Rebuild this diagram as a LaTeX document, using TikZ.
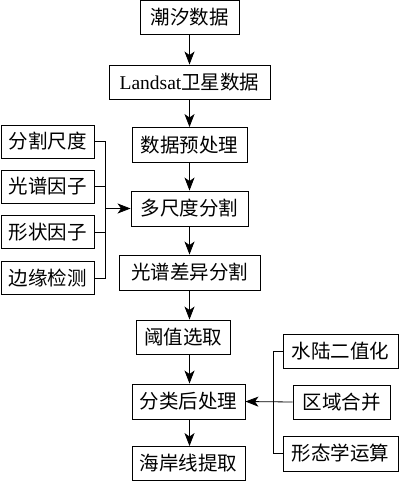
\documentclass[tikz,border=0pt]{standalone}
\usepackage{fontspec}
\setmainfont{Liberation Serif}
\newfontfamily\cjk{Noto Sans CJK SC}
\usepackage{tikz}
\usetikzlibrary{arrows.meta}

\begin{document}
\begin{tikzpicture}[x=1bp, y=-1bp,
        procbox/.style={draw, line width=0.9bp, inner sep=0, minimum height=34bp, font=\fontsize{19.5bp}{22bp}\selectfont\cjk},
        flow/.style={line width=0.8bp, -{Stealth[length=13bp, width=10bp, inset=3.5bp]}}]
                \useasboundingbox (0,0) rectangle (400,481);

                % main column
                \node[procbox, minimum width=99bp](tide) at (189.5,17.5) {潮汐数据};
                \node[procbox, minimum width=161bp](landsat) at (189.5,82) {{\rmfamily Landsat}卫星数据};
                \node[procbox, minimum width=115bp, minimum height=35bp](preproc) at (189.5,145) {数据预处理};
                \node[procbox, minimum width=117bp, minimum height=35bp](mrseg) at (189.5,208.5) {多尺度分割};
                \node[procbox, minimum width=141bp, minimum height=35bp](specseg) at (189.5,272.5) {光谱差异分割};
                \node[procbox, minimum width=94bp](thresh) at (183,337) {阈值选取};
                \node[procbox, minimum width=113bp, minimum height=35bp](postproc) at (188.5,401.5) {分类后处理};
                \node[procbox, minimum width=113bp](coast) at (188.5,463.5) {海岸线提取};

                % segmentation parameters
                \node[procbox, minimum width=93bp, minimum height=33bp](segscale) at (47.5,141.5) {分割尺度};
                \node[procbox, minimum width=93bp, minimum height=33bp](specfac) at (47.5,186.5) {光谱因子};
                \node[procbox, minimum width=93bp, minimum height=33bp](shapefac) at (47.5,232) {形状因子};
                \node[procbox, minimum width=93bp, minimum height=33bp](edgedet) at (47.5,278) {边缘检测};

                % post-processing steps
                \node[procbox, minimum width=115bp](binar) at (340.5,351) {水陆二值化};
                \node[procbox, minimum width=97bp](merge) at (341.5,402) {区域合并};
                \node[procbox, minimum width=115bp, minimum height=35bp](morph) at (340.5,453.5) {形态学运算};

                \coordinate (leftBar) at (105,208.5);
                \coordinate (rightBar) at (273,402);

                                \draw[flow] (tide.south) -- (landsat.north);
                                \draw[flow] (landsat.south) -- (preproc.north);
                                \draw[flow] (preproc.south) -- (mrseg.north);
                                \draw[flow] (mrseg.south) -- (specseg.north);
                                \draw[flow] (specseg.south) -- (specseg.south |- thresh.north);
                                \draw[flow] (specseg.south |- thresh.south) -- (specseg.south |- postproc.north);
                                \draw[flow] (specseg.south |- postproc.south) -- (specseg.south |- coast.north);

                                \draw[line width=0.8bp] (segscale.east) -| (leftBar |- edgedet.east) -- (edgedet.east);
                                \draw[line width=0.8bp] (specfac.east) -- (leftBar |- specfac.east);
                                \draw[line width=0.8bp] (shapefac.east) -- (leftBar |- shapefac.east);
                                \draw[flow] (leftBar) -- (mrseg.west);

                                \draw[line width=0.8bp] (binar.west) -| (rightBar |- morph.west) -- (morph.west);
                                \draw[flow] (merge.west) -- (postproc.east);
\end{tikzpicture}
\end{document}
